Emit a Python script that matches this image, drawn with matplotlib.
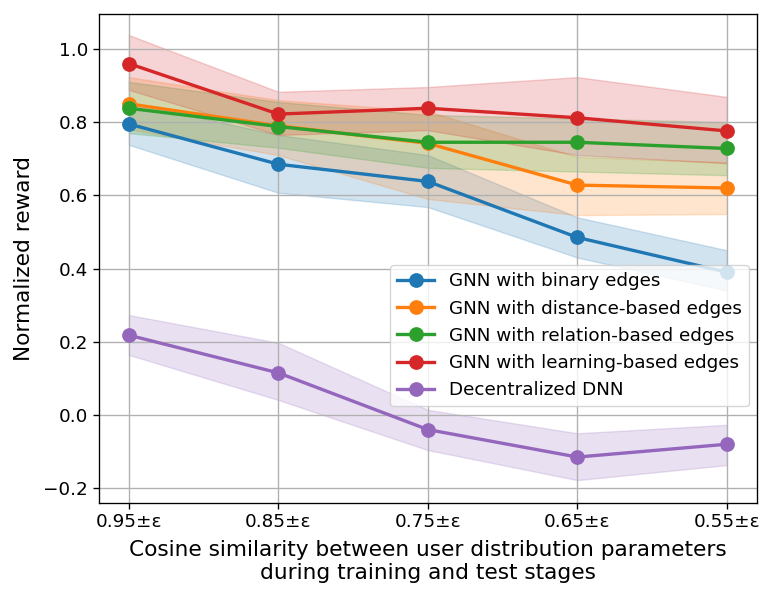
import matplotlib
matplotlib.use('Agg')
import matplotlib.pyplot as plt
import numpy as np

# 数据
xlabels = ['0.95±ε', '0.85±ε', '0.75±ε', '0.65±ε', '0.55±ε']
names = ['GNN with binary edges', 'GNN with distance-based edges',
         'GNN with relation-based edges', 'GNN with learning-based edges',
         'Decentralized DNN']

binary = [0.795, 0.685, 0.638, 0.485, 0.39]
binary_lo = [0.738, 0.607, 0.568, 0.43, 0.34]
binary_hi = [0.855, 0.765, 0.71, 0.54, 0.45]

distance = [0.85, 0.79, 0.742, 0.628, 0.62]
distance_lo = [0.78, 0.71, 0.59, 0.546, 0.549]
distance_hi = [0.923, 0.86, 0.83, 0.705, 0.69]

relation = [0.838, 0.788, 0.745, 0.745, 0.728]
relation_lo = [0.77, 0.73, 0.675, 0.665, 0.655]
relation_hi = [0.91, 0.855, 0.82, 0.81, 0.80]

learning = [0.96, 0.822, 0.838, 0.812, 0.776]
learning_lo = [0.888, 0.765, 0.778, 0.71, 0.688]
learning_hi = [1.038, 0.883, 0.896, 0.923, 0.869]

dnn = [0.218, 0.115, -0.04, -0.115, -0.08]
dnn_lo = [0.164, 0.041, -0.096, -0.178, -0.137]
dnn_hi = [0.273, 0.197, 0.014, -0.05, -0.027]

series = [(binary, binary_lo, binary_hi), (distance, distance_lo, distance_hi),
          (relation, relation_lo, relation_hi), (learning, learning_lo, learning_hi),
          (dnn, dnn_lo, dnn_hi)]
colors = ['#1f77b4', '#ff7f0e', '#2ca02c', '#d62728', '#9467bd']

x = np.arange(len(xlabels))

fig = plt.figure(figsize=(7.73, 6.0), dpi=100)
ax = fig.add_axes([0.128, 0.162, 0.851, 0.815])

for (y, lo, hi), name, c in zip(series, names, colors):
    ax.plot(x, y, marker='o', color=c, linewidth=2.4, markersize=9.6, label=name)
    ax.fill_between(x, lo, hi, color=c, alpha=0.2)

ax.set_xticks(x)
ax.set_xticklabels(xlabels)
ax.tick_params(labelsize=13.2, width=0.96, length=4.2)
for s in ax.spines.values():
    s.set_linewidth(0.96)
ax.set_ylim(-0.24, 1.096)
ax.set_xlabel('Cosine similarity between user distribution parameters\nduring training and test stages',
              fontsize=15.6, labelpad=6)
ax.set_ylabel('Normalized reward', fontsize=15.6, labelpad=7)
ax.grid(True, linewidth=0.96)
ax.legend(loc='upper right', bbox_to_anchor=(0.988, 0.486), borderaxespad=0, fontsize=13.2)

fig.savefig('out.png')
